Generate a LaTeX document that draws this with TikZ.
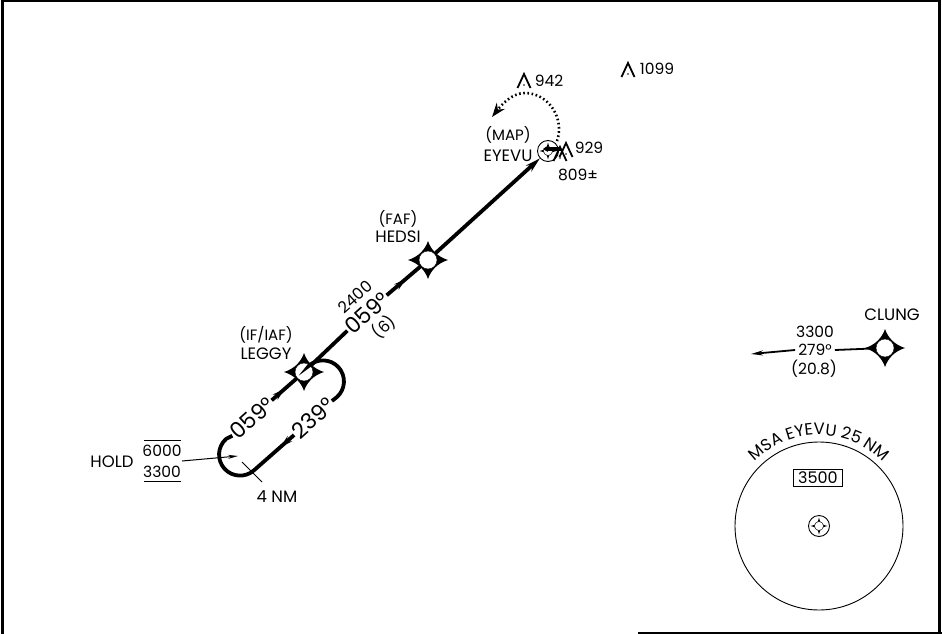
\documentclass[tikz,border=0pt]{standalone}
\usepackage{fontspec}
\setmainfont{Poppins}
\usetikzlibrary{arrows.meta,decorations.markings,decorations.text}

\newcommand{\fixmark}[2]{
	\begin{scope}[shift={(#2)}]
		\fill (20,0) .. controls (10,-3) and (3,-10) .. (0,-19) .. controls (-3,-10) and (-10,-3) .. (-20,0) .. controls (-10,3) and (-3,10) .. (0,19) .. controls (3,10) and (10,3) .. (20,0);
	\end{scope}
	\node[fixhole] (#1) at (#2) {};
}
\newcommand{\navmark}[2]{
	\node[navring] (#1) at (#2) {};
	\begin{scope}[shift={(#2)}]
		\fill (8.5,0) .. controls (3,-1) and (1,-3) .. (0,-8.5) .. controls (-1,-3) and (-3,-1) .. (-8.5,0) .. controls (-3,1) and (-1,3) .. (0,8.5) .. controls (1,3) and (3,1) .. (8.5,0);
		\filldraw[fill=white, line width=0.4] (0,0) circle (4.5);
	\end{scope}
}
\newcommand{\peakmark}[1]{
	\begin{scope}[shift={(#1)}]
		\draw[line width=1.8] (-6.5,14) -- (0,0) -- (6.5,14);
		\fill (0,11) circle (0.9);
	\end{scope}
}

\begin{document}
\begin{tikzpicture}[x=1pt, y=-1pt,
	lbl/.style={inner sep=0pt, font=\fontsize{16.5}{16.5}\selectfont},
	role/.style={inner sep=0pt, font=\fontsize{15}{15}\selectfont},
	elev/.style={inner sep=0pt, font=\fontsize{15.5}{15.5}\selectfont},
	bigcrs/.style={inner sep=1pt, rotate=42, font=\fontsize{22}{22}\selectfont},
	smallcrs/.style={inner sep=0pt, rotate=42, font=\fontsize{16}{16}\selectfont},
	fixhole/.style={circle, fill=white, draw, line width=0.4, minimum size=18, inner sep=0pt},
	navring/.style={circle, draw, line width=0.9, minimum size=21, inner sep=0pt},
	track/.style={line width=3.8},
	thinline/.style={line width=1},
	midarrow/.style={postaction={decorate}, decoration={markings, mark=at position #1 with {\arrow{Stealth[length=12pt,width=7pt]}}}},
	backarrow/.style={postaction={decorate}, decoration={markings, mark=at position #1 with {\arrowreversed{Stealth[length=12pt,width=7pt]}}}}
]
	\useasboundingbox (0,0) rectangle (942,634);
	\draw[line width=3] (2,634) -- (2,1) -- (939,1) -- (939,634);
	\draw[line width=3] (638,633) -- (942,633);

	\fixmark{leggy}{304,372}
	\fixmark{hedsi}{428,260}
	\fixmark{clung}{885,348}
	\navmark{eyevu}{548,151}
	\navmark{msactr}{819,526}

	\node[role] (leggyrole) at (266,335) {(IF/IAF)};
	\node[lbl] (leggyname) at (266,354) {LEGGY};
	\node[role] (hedsirole) at (398,219) {(FAF)};
	\node[lbl] (hedsiname) at (398,237) {HEDSI};
	\node[role] (eyevurole) at (508,135) {(MAP)};
	\node[lbl] (eyevuname) at (508,156) {EYEVU};
	\node[lbl] (clungname) at (892,315) {CLUNG};

	\node[bigcrs] (crsmain) at (367,313) {059°};
	\node[smallcrs] (altmain) at (355,297) {2400};
	\node[smallcrs] (distmain) at (384,327) {(6)};
	\node[bigcrs] (crsout) at (252,418) {059°};
	\node[bigcrs] (crsin) at (313,418) {239°};

	\draw[track] (crsmain.west) -- (leggy);
	\draw[track, midarrow=0.55] (crsmain.east) -- (hedsi);
	\draw[track, -{Stealth[length=15pt,width=8pt]}] (hedsi) -- (eyevu);
	\draw[track, midarrow=0.5] (crsout.east) -- (leggy);
	\draw[track, backarrow=0.86] (crsout.west) -- (226,439) arc[start angle=228, end angle=48, radius=21] -- (crsin.west);
	\draw[track] (crsin.east) -- (337,397) arc[start angle=48, end angle=-132, radius=21] -- (leggy);

	\coordinate (missed) at (561,149);
	\draw[track, -{Stealth[length=5pt,width=6pt]}] (missed) -- (543,149);
	\draw[line width=2.6, dash pattern=on 1.6 off 2.6, -{Stealth[length=14pt,width=10pt]}] (557,141) .. controls (565,118) and (548,93) .. (525,93) .. controls (513,93) and (503,103) .. (492,117);

	\peakmark{524,74}
	\peakmark{628,63}
	\peakmark{566,143}
	\peakmark{560,147}
	\node[elev] (elev942) at (549,81) {942};
	\node[elev] (elev1099) at (657,69) {1099};
	\node[elev] (elev929) at (589,148) {929};
	\node[elev] (elev809) at (578,175) {809±};

	\node[lbl] (holdname) at (112,462) {HOLD};
	\node[elev] (holdmax) at (162,451) {6000};
	\node[elev] (holdmin) at (162,472) {3300};
	\draw[thinline] (144,440) -- (181,440);
	\draw[thinline] (144,481) -- (181,481);
	\coordinate (holdfix) at (238,456);
	\draw[thinline, -{Stealth[length=10pt,width=4pt]}] (182,461) -- (holdfix);

	\node[lbl] (holdlen) at (277,497) {4 NM};
	\coordinate (ticktop) at (242,462);
	\coordinate (tickend) at (262,482);
	\draw[thinline] (ticktop) -- (tickend);

	\node[elev] (clungalt) at (815,332) {3300};
	\node[elev, inner sep=3pt] (clungcrs) at (815,350) {279°};
	\node[elev] (clungdist) at (814,369) {(20.8)};
	\coordinate (clungend) at (751,354);
	\draw[line width=1.8] (clung) -- (clungcrs.east);
	\draw[line width=1.8, -{Stealth[length=12pt,width=5pt]}] (clungcrs.west) -- (clungend);

	\node[circle, draw, line width=0.9, minimum size=168, inner sep=0pt] (msa) at (819,526) {};
	\node[draw, line width=0.9, minimum width=49, minimum height=17, inner sep=0pt, font=\fontsize{16}{16}\selectfont] (msaalt) at (818,478) {3500};
	\path[postaction={decorate}, decoration={text along path, text align=center, text={|\fontsize{16.5}{16.5}\selectfont|MSA EYEVU 25 NM}}] (819,526) ++(222:91) arc[start angle=222, end angle=318, radius=91];
\end{tikzpicture}
\end{document}
